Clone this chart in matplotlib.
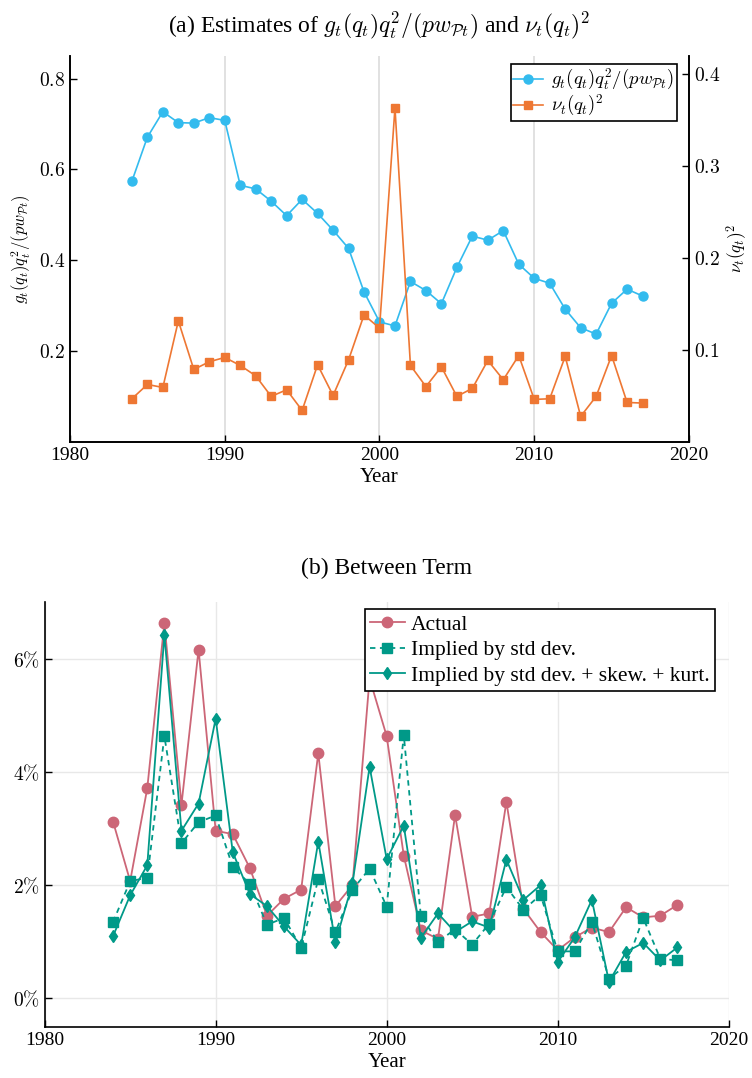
import numpy as np
import matplotlib as mpl
import matplotlib.pyplot as plt


# fonts: Times-like text, Computer Modern maths
mpl.rcParams.update({'font.family': 'serif',
                     'font.serif': ['Liberation Serif', 'DejaVu Serif'],
                     'mathtext.fontset': 'cm',
                     'font.size': 14})

years = np.arange(1984, 2018)

# panel (a): estimates
g_share = [0.574, 0.671, 0.727, 0.703, 0.702, 0.714, 0.708,
           0.565, 0.557, 0.530, 0.498, 0.534, 0.503, 0.466, 0.426, 0.330,
           0.264, 0.255, 0.353, 0.333, 0.304, 0.384, 0.453, 0.444, 0.465, 0.391,
           0.360, 0.349, 0.292, 0.251, 0.237, 0.305, 0.336, 0.321]
nu_sq = [0.0467, 0.0623, 0.0590, 0.1315, 0.0786, 0.0870, 0.0917,
         0.0830, 0.0717, 0.0493, 0.0565, 0.0340, 0.0837, 0.0503, 0.0890, 0.1380,
         0.1236, 0.3634, 0.0830, 0.0600, 0.0815, 0.0493, 0.0580, 0.0884, 0.0674, 0.0938,
         0.0460, 0.0467, 0.0928, 0.0275, 0.0493, 0.0938, 0.0427, 0.0420]

# panel (b): between term, in percent
actual = [3.12, 2.07, 3.71, 6.63, 3.42, 6.16, 2.96,
          2.90, 2.30, 1.46, 1.76, 1.92, 4.33, 1.63, 2.00, 5.65,
          4.63, 2.52, 1.20, 1.05, 3.24, 1.44, 1.50, 3.47, 1.58, 1.17,
          0.85, 1.08, 1.25, 1.17, 1.61, 1.43, 1.46, 1.65]
implied_std = [1.35, 2.07, 2.13, 4.63, 2.74, 3.11, 3.23,
               2.32, 2.02, 1.30, 1.42, 0.89, 2.11, 1.17, 1.92, 2.29,
               1.62, 4.65, 1.45, 1.00, 1.22, 0.95, 1.32, 1.97, 1.56, 1.83,
               0.83, 0.83, 1.35, 0.35, 0.58, 1.42, 0.70, 0.67]
implied_moments = [1.10, 1.82, 2.35, 6.42, 2.96, 3.44, 4.94,
                   2.58, 1.84, 1.63, 1.27, 0.94, 2.77, 0.99, 2.03, 4.09,
                   2.46, 3.05, 1.07, 1.50, 1.17, 1.36, 1.25, 2.45, 1.74, 2.00,
                   0.64, 1.08, 1.74, 0.29, 0.82, 0.98, 0.67, 0.90]

xticks = [1980, 1990, 2000, 2010, 2020]
left_ticks = [0.2, 0.4, 0.6, 0.8]
right_ticks = [0.1, 0.2, 0.3, 0.4]
pct_ticks = [0, 2, 4, 6]

CYAN = '#33BBEE'
ORANGE = '#EE7733'
ROSE = '#CC6677'
TEAL = '#009988'

fig = plt.figure(figsize=(7.52, 10.78), dpi=100)

# ---- (a) ----
ax1 = fig.add_axes([0.0931, 0.5903, 0.8231, 0.3578])
ax2 = ax1.twinx()

l1, = ax1.plot(years, g_share, color=CYAN, lw=1.2, marker='o', ms=6.5,
               label=r'$g_t(q_t)q_t^2/(pw_{\mathcal{P}t})$')
l2, = ax2.plot(years, nu_sq, color=ORANGE, lw=1.2, marker='s', ms=6.3,
               label=r'$\nu_t(q_t)^2$')

ax1.set_xlim(1980, 2020)
ax1.set_ylim(0, 0.85)
ax2.set_ylim(0, 0.42)
ax1.set_xticks(xticks)
ax1.set_yticks(left_ticks, labels=[f'${v:.1f}$' for v in left_ticks])
ax2.set_yticks(right_ticks, labels=[f'${v:.1f}$' for v in right_ticks])
ax1.grid(axis='x', color='#dcdcdc', lw=1.2)
ax1.set_axisbelow(True)

for ax in (ax1, ax2):
    ax.spines['top'].set_visible(False)
    for s in ax.spines.values():
        s.set_linewidth(1.2)
    ax.tick_params(direction='in', length=5, width=1)

ax1.set_xlabel('Year', fontsize=15, labelpad=3)
ax1.set_ylabel(r'$g_t(q_t)q_t^2/(pw_{\mathcal{P}t})$', fontsize=12, labelpad=4)
ax2.set_ylabel(r'$\nu_t(q_t)^2$', fontsize=12.5, rotation=90, labelpad=3)
ax1.set_title(r'(a) Estimates of $g_t(q_t)q_t^2/(pw_{\mathcal{P}t})$ and $\nu_t(q_t)^2$',
              fontsize=17, pad=17)

leg = ax2.legend(handles=[l1, l2], loc='upper right',
                 bbox_to_anchor=(0.98, 0.978), borderaxespad=0,
                 fontsize=13.5, fancybox=False, framealpha=1, edgecolor='black',
                 handlelength=1.6, handletextpad=0.4, borderpad=0.15,
                 labelspacing=0.05)
leg.get_frame().set_linewidth(1.2)

# ---- (b) ----
ax3 = fig.add_axes([0.0594, 0.0476, 0.9096, 0.394])
ax3.plot(years, actual, color=ROSE, lw=1.3, marker='o', ms=7.5, label='Actual')
ax3.plot(years, implied_std, color=TEAL, lw=1.3, ls=(0, (3, 2.5)), marker='s',
         ms=7.5, label='Implied by std dev.')
ax3.plot(years, implied_moments, color=TEAL, lw=1.3, marker='d', ms=6.5,
         label='Implied by std dev. + skew. + kurt.')

ax3.set_xlim(1980, 2020)
ax3.set_ylim(-0.5, 7.0)
ax3.set_xticks(xticks)
ax3.set_yticks(pct_ticks, labels=[rf'${v}\%$' for v in pct_ticks])
ax3.grid(color='#e8e8e8', lw=1.0)
ax3.set_axisbelow(True)
ax3.spines['top'].set_visible(False)
ax3.spines['right'].set_visible(False)
for s in ('left', 'bottom'):
    ax3.spines[s].set_linewidth(1.2)
ax3.tick_params(direction='in', length=5, width=1)
ax3.set_xlabel('Year', fontsize=15, labelpad=3)
ax3.set_title('(b) Between Term', fontsize=17, pad=20)

leg3 = ax3.legend(loc='upper right', bbox_to_anchor=(0.98, 0.983),
                  borderaxespad=0, fontsize=15.5, fancybox=False, framealpha=1,
                  edgecolor='black', handlelength=1.6, handletextpad=0.3,
                  borderpad=0.25, labelspacing=0.25)
leg3.get_frame().set_linewidth(1.2)

fig.savefig('out.png', dpi=100)
